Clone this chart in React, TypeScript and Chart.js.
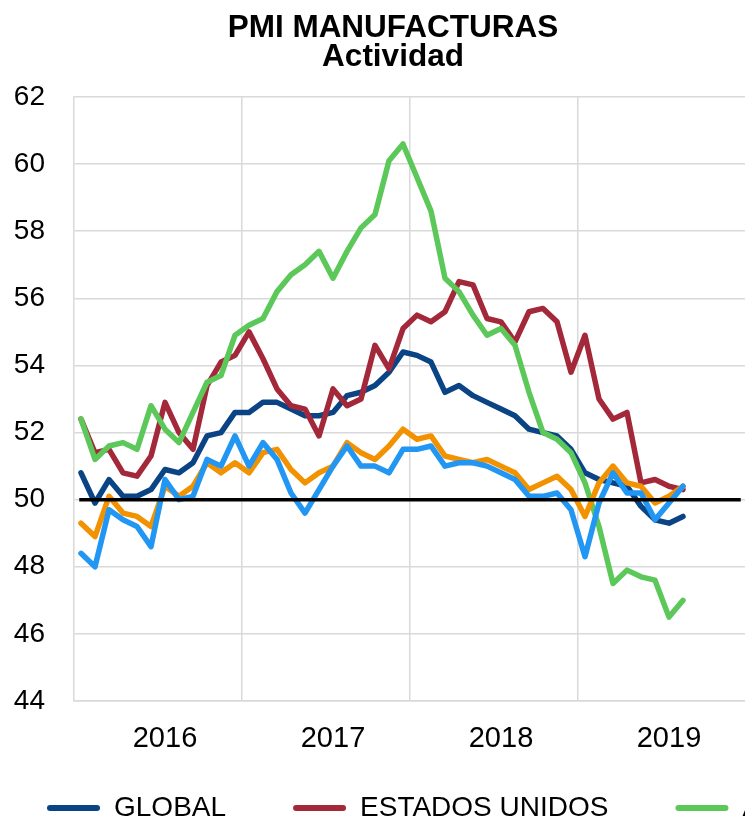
import { useEffect, useRef } from 'react';
import { Chart, registerables } from 'chart.js';

Chart.register(...registerables);

// ---- data ----
const YEARS = ['2016', '2017', '2018', '2019'];
const MONTHS = ['ene', 'feb', 'mar', 'abr', 'may', 'jun', 'jul', 'ago', 'sep', 'oct', 'nov', 'dic'];
const LABELS = YEARS.flatMap((y) => MONTHS.map((m) => `${m}-${y.slice(2)}`));

const GLOBAL = [
  50.8, 49.9, 50.6, 50.1, 50.1, 50.3, 50.9, 50.8, 51.1, 51.9, 52.0, 52.6,
  52.6, 52.9, 52.9, 52.7, 52.5, 52.5, 52.6, 53.1, 53.2, 53.4, 53.8, 54.4,
  54.3, 54.1, 53.2, 53.4, 53.1, 52.9, 52.7, 52.5, 52.1, 52.0, 51.9, 51.5,
  50.8, 50.6, 50.5, 50.4, 49.8, 49.4, 49.3, 49.5,
];
const ESTADOS_UNIDOS = [
  52.4, 51.4, 51.5, 50.8, 50.7, 51.3, 52.9, 52.0, 51.5, 53.4, 54.1, 54.3,
  55.0, 54.2, 53.3, 52.8, 52.7, 51.9, 53.3, 52.8, 53.0, 54.6, 53.9, 55.1,
  55.5, 55.3, 55.6, 56.5, 56.4, 55.4, 55.3, 54.7, 55.6, 55.7, 55.3, 53.8,
  54.9, 53.0, 52.4, 52.6, 50.5, 50.6, 50.4, 50.3,
];
const AREA_EURO = [
  52.4, 51.2, 51.6, 51.7, 51.5, 52.8, 52.1, 51.7, 52.6, 53.5, 53.7, 54.9,
  55.2, 55.4, 56.2, 56.7, 57.0, 57.4, 56.6, 57.4, 58.1, 58.5, 60.1, 60.6,
  59.6, 58.6, 56.6, 56.2, 55.5, 54.9, 55.1, 54.6, 53.2, 52.0, 51.8, 51.4,
  50.5, 49.2, 47.5, 47.9, 47.7, 47.6, 46.5, 47.0,
];
const EMERGENTES = [
  49.3, 48.9, 50.1, 49.6, 49.5, 49.2, 50.4, 50.1, 50.4, 51.1, 50.8, 51.1,
  50.8, 51.4, 51.5, 50.9, 50.5, 50.8, 51.0, 51.7, 51.4, 51.2, 51.6, 52.1,
  51.8, 51.9, 51.3, 51.2, 51.1, 51.2, 51.0, 50.8, 50.3, 50.5, 50.7, 50.3,
  49.5, 50.5, 51.0, 50.5, 50.4, 49.9, 50.1, 50.4,
];
const CHINA = [
  48.4, 48.0, 49.7, 49.4, 49.2, 48.6, 50.6, 50.0, 50.1, 51.2, 51.0, 51.9,
  51.0, 51.7, 51.2, 50.2, 49.6, 50.3, 51.0, 51.6, 51.0, 51.0, 50.8, 51.5,
  51.5, 51.6, 51.0, 51.1, 51.1, 51.0, 50.8, 50.6, 50.1, 50.1, 50.2, 49.7,
  48.3, 49.9, 50.8, 50.2, 50.2, 49.4, 49.9, 50.4,
];
const UMBRAL = 50;
const Y_MIN = 44;
const Y_MAX = 62;
const Y_STEP = 2;

const SERIES_NAMES = ['GLOBAL', 'ESTADOS UNIDOS', 'ÁREA EURO', 'EMERGENTES', 'CHINA'];
const SERIES_DATA = [GLOBAL, ESTADOS_UNIDOS, AREA_EURO, EMERGENTES, CHINA];
const SERIES_COLORS = ['#0b4485', '#a32839', '#5cc85a', '#f39200', '#2196f3'];

// ---- layout constants ----
const CANVAS_W = 1100;
const CANVAS_H = 821;
const CANVAS_LEFT = -20;
const TITLE_CENTER = 393 - CANVAS_LEFT;
const LEGEND_TOP = 727;
const GRID = '#d9d9d9';
const FONT = '"Liberation Sans", Arial, Helvetica, sans-serif';

const layoutTweak = {
  id: 'layoutTweak',
  afterLayout(chart: any) {
    const t = chart.titleBlock;
    if (t) {
      t.left = TITLE_CENTER - 300;
      t.right = TITLE_CENTER + 300;
    }
    const l = chart.legend;
    if (l) {
      l.top = LEGEND_TOP;
      l.bottom = CANVAS_H;
      l.height = CANVAS_H - LEGEND_TOP;
    }
  },
};

export default function App() {
  const ref = useRef<HTMLCanvasElement>(null);

  useEffect(() => {
    const datasets: any[] = SERIES_NAMES.map((name, i) => ({
      label: name,
      data: SERIES_DATA[i],
      borderColor: SERIES_COLORS[i],
      backgroundColor: SERIES_COLORS[i],
      borderWidth: 5.5,
      pointRadius: 0,
      tension: 0,
      borderJoinStyle: 'round',
      borderCapStyle: 'round',
      order: SERIES_NAMES.length - i,
      yAxisID: 'y',
    }));
    datasets.push({
      label: 'Umbral 50',
      data: [
        { x: LABELS[0], y: UMBRAL },
        { x: LABELS[LABELS.length - 1], y: UMBRAL },
      ],
      borderColor: '#000000',
      backgroundColor: '#000000',
      borderWidth: 3.5,
      borderCapStyle: 'square',
      pointRadius: 0,
      order: 0,
      yAxisID: 'y',
    });

    const chart = new Chart(ref.current as HTMLCanvasElement, {
      type: 'line',
      data: { labels: LABELS, datasets },
      plugins: [layoutTweak],
      options: {
        responsive: false,
        animation: false,
        devicePixelRatio: 1,
        events: [],
        layout: { padding: 0 },
        plugins: {
          tooltip: { enabled: false },
          title: {
            display: true,
            text: ['PMI MANUFACTURAS', 'Actividad'],
            color: '#000',
            font: { family: FONT, size: 31.5, weight: 'bold', lineHeight: '29px' },
            padding: { top: 14, bottom: 25 },
          },
          legend: {
            display: true,
            position: 'bottom',
            align: 'start',
            maxHeight: 60,
            labels: {
              color: '#000',
              font: { family: FONT, size: 28 },
              boxWidth: 53,
              boxHeight: 6,
              padding: 67,
              useBorderRadius: true,
              borderRadius: 3,
              filter: (item: any) => item.text !== 'Umbral 50',
              sort: (a: any, b: any) => a.datasetIndex - b.datasetIndex,
              generateLabels: (c: any) =>
                Chart.defaults.plugins.legend.labels.generateLabels(c).map((it: any) => ({
                  ...it,
                  fillStyle: it.strokeStyle,
                  lineWidth: 0,
                })),
            },
          },
        },
        scales: {
          x: {
            type: 'category',
            offset: true,
            afterFit: (s: any) => {
              s.height = 60;
            },
            grid: {
              offset: true,
              drawTicks: false,
              lineWidth: 1.5,
              color: (ctx: any) => (ctx.index % 12 === 0 && ctx.index > 0 ? GRID : 'rgba(0,0,0,0)'),
            },
            border: { display: true, color: GRID, width: 1.5 },
            ticks: {
              autoSkip: false,
              maxRotation: 0,
              minRotation: 0,
              padding: 21,
              color: '#000',
              font: { family: FONT, size: 29 },
              callback: (_v: any, index: number) => (index % 12 === 6 ? YEARS[Math.floor(index / 12)] : ''),
            },
          },
          y: {
            type: 'linear',
            position: 'left',
            min: Y_MIN,
            max: Y_MAX,
            afterFit: (s: any) => {
              s.width = 94;
            },
            grid: { color: GRID, lineWidth: 1.5, drawTicks: false },
            border: { display: true, color: GRID, width: 1.5 },
            ticks: {
              stepSize: Y_STEP,
              padding: 29,
              color: '#000',
              font: { family: FONT, size: 28 },
            },
          },
          yR: {
            type: 'linear',
            position: 'right',
            display: true,
            afterFit: (s: any) => {
              s.width = CANVAS_W - 766;
            },
            grid: { display: false, drawTicks: false },
            border: { display: false },
            ticks: { display: false },
          },
        },
      },
    } as any);

    return () => chart.destroy();
  }, []);

  return (
    <div
      style={{
        position: 'absolute',
        left: 0,
        top: 0,
        width: 745,
        height: CANVAS_H,
        overflow: 'hidden',
        background: '#ffffff',
      }}
    >
      <canvas
        ref={ref}
        width={CANVAS_W}
        height={CANVAS_H}
        style={{ position: 'absolute', left: CANVAS_LEFT, top: 0, width: CANVAS_W, height: CANVAS_H }}
      />
    </div>
  );
}
